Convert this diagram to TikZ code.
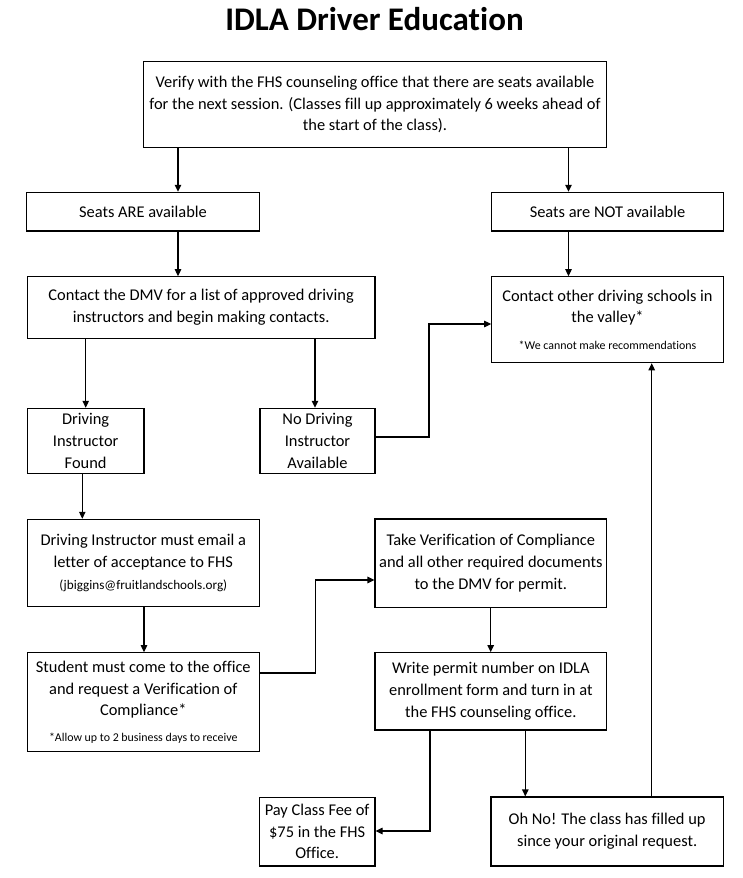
\documentclass[tikz,border=0pt]{standalone}
\usepackage{fontspec}
\setmainfont{Carlito}[Ligatures=NoCommon]
\usetikzlibrary{arrows.meta}
\newcommand\mybody{\fontsize{16.4}{21.7}\selectfont}
\newcommand\mysmall{\fontsize{11.9}{14}\selectfont}
\newcommand\mymail{\fontsize{13.2}{15}\selectfont}
\newcommand\mytitle{\fontsize{33}{38}\selectfont\bfseries}
\begin{document}
\begin{tikzpicture}[x=1pt,y=-1pt,
  box/.style={draw, line width=1.1pt, inner sep=0pt, align=center, font=\mybody, text=black},
  arr/.style={line width=1.1pt, -{Triangle[length=7pt,width=6.5pt]}},
  ln/.style={line width=1.1pt}]
\useasboundingbox (0,0) rectangle (743,878);

\node[font=\mytitle, anchor=base] (title) at (374.5,30) {IDLA Driver Education};

\node[box, minimum width=463.4pt, minimum height=86pt] (top) at (375,104.5)
  {Verify with the FHS counseling office that there are seats available\\
   for the next session. (Classes fill up approximately 6 weeks ahead of\\
   the start of the class).};
\node[box, minimum width=232.6pt, minimum height=38.7pt] (seatsA) at (143,211.65) {Seats ARE available};
\node[box, minimum width=231.6pt, minimum height=38.7pt] (seatsN) at (607.5,211.65) {Seats are NOT available};
\node[box, minimum width=347.7pt, minimum height=61.6pt] (dmv) at (201.15,307.5)
  {Contact the DMV for a list of approved driving\\ instructors and begin making contacts.};
\node[box, minimum width=231.6pt, minimum height=86pt] (contact) at (607.5,319.7)
  {Contact other driving schools in\\ the valley*\\[5pt] {\mysmall *We cannot make recommendations}};
\node[box, minimum width=116.7pt, minimum height=65pt] (dif) at (85.65,440.8)
  {Driving\\ Instructor\\ Found};
\node[box, minimum width=115pt, minimum height=65pt] (nodr) at (317.5,440.8)
  {No Driving\\ Instructor\\ Available};
\node[box, minimum width=232pt, minimum height=87.4pt] (email) at (143.3,563)
  {Driving Instructor must email a\\ letter of acceptance to FHS\\[0pt] {\mymail (jbiggins@fruitlandschools.org)}};
\node[box, minimum width=232pt, minimum height=99pt] (student) at (143.3,702.2)
  {Student must come to the office\\ and request a Verification of\\ Compliance*\\[4pt] {\mysmall *Allow up to 2 business days to receive}};
\node[box, minimum width=231.7pt, minimum height=88.3pt] (take) at (490.85,563.15)
  {Take Verification of Compliance\\ and all other required documents\\ to the DMV for permit.};
\node[box, minimum width=231.7pt, minimum height=77.3pt] (write) at (490.85,691.35)
  {Write permit number on IDLA\\ enrollment form and turn in at\\ the FHS counseling office.};
\node[box, minimum width=115.7pt, minimum height=68.7pt] (pay) at (317.15,831.65)
  {Pay Class Fee of\\ \$75 in the FHS\\ Office.};
\node[box, minimum width=232.3pt, minimum height=69pt] (ohno) at (607.15,831.5)
  {Oh No! The class has filled up\\ since your original request.};

% helper coordinates for connector positions
\coordinate (xa) at (178,0);
\coordinate (xn) at (568.5,0);
\coordinate (xd1) at (85.7,0);
\coordinate (xd2) at (315,0);
\coordinate (xf) at (82.3,0);
\coordinate (xe) at (144,0);
\coordinate (xt) at (490.7,0);
\coordinate (xw1) at (430,831);
\coordinate (xw2) at (525.3,0);
\coordinate (xo) at (651.7,0);
\coordinate (k1) at (429,437);
\coordinate (k2) at (429,324);
\coordinate (m1) at (315.3,673);
\coordinate (m2) at (315.3,580);

\draw[arr] (top.south -| xa) -- (seatsA.north -| xa);
\draw[arr] (top.south -| xn) -- (seatsN.north -| xn);
\draw[arr] (seatsA.south -| xa) -- (dmv.north -| xa);
\draw[arr] (seatsN.south -| xn) -- (contact.north -| xn);
\draw[arr] (dmv.south -| xd1) -- (dif.north -| xd1);
\draw[arr] (dmv.south -| xd2) -- (nodr.north -| xd2);
\draw[arr] (nodr.east |- k1) -- (k1) -- (k2) -- (contact.west |- k2);
\draw[arr] (dif.south -| xf) -- (email.north -| xf);
\draw[arr] (email.south -| xe) -- (student.north -| xe);
\draw[arr] (student.east |- m1) -- (m1) -- (m2) -- (take.west |- m2);
\draw[arr] (take.south -| xt) -- (write.north -| xt);
\draw[arr] (write.south -| xw1) -- (xw1) -- (pay.east |- xw1);
\draw[arr] (write.south -| xw2) -- (ohno.north -| xw2);
\draw[arr] (ohno.north -| xo) -- (contact.south -| xo);
\end{tikzpicture}
\end{document}
